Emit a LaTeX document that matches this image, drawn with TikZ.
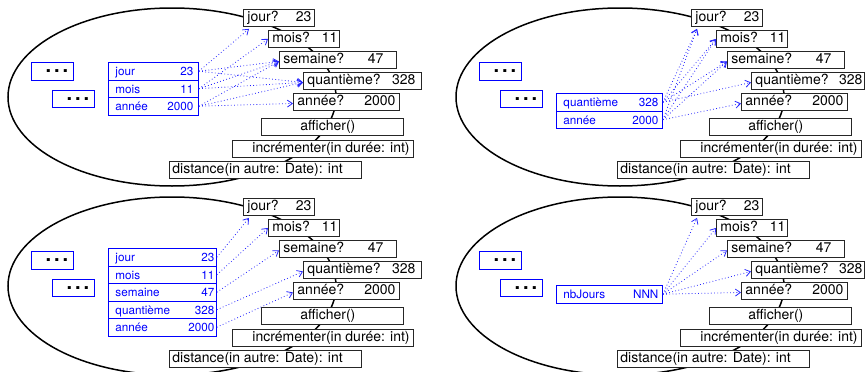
\documentclass[tikz,border=0pt]{standalone}
\usepackage{fontspec}
\setmainfont{TeX Gyre Heros}
\usetikzlibrary{arrows.meta}
\definecolor{fieldblue}{RGB}{0,0,255}
\newcommand\blackfont{\fontsize{14}{16}\selectfont}
\newcommand\bluefont{\fontsize{11.7}{13}\selectfont}
\newcommand\dotrow{\hspace*{9pt}{\fontsize{20}{22}\selectfont\bfseries .\kern3pt.\kern3pt.}}
\tikzset{
  oval/.style={draw=black, line width=1.5pt},
  method/.style={draw=black!85, line width=0.9pt, fill=white, anchor=north west,
    inner sep=0pt, minimum height=17pt, text height=11pt, text depth=3pt, font=\blackfont},
  dotbox/.style={draw=fieldblue, line width=0.9pt, fill=white, anchor=north west,
    inner sep=0pt, minimum width=42pt, minimum height=17.5pt},
  field/.style={draw=fieldblue, line width=0.9pt, anchor=north west, inner sep=0pt,
    minimum height=17.5pt, text height=11pt, text depth=1.5pt, font=\bluefont, text=fieldblue},
  link/.style={draw=fieldblue!85, line width=0.8pt, dash pattern=on 0.8pt off 2.4pt,
    -{Straight Barb[length=5pt,width=7pt,line width=0.8pt]}},
}
% a method box: name, left, top, width, contents
\newcommand\methodbox[5]{\node[method, minimum width=#4pt] (#1) at (#2,#3) {\makebox[#4pt][l]{#5}};}
% an attribute row: name, left, top, width, contents
\newcommand\fieldrow[5]{\node[field, minimum width=#4pt] (#1) at (#2,#3) {\makebox[#4pt][l]{#5}};}
% the object: outline, hidden parts and the public interface
% #1 prefix, #2 width of the quantieme box, #3 space after 328
\newcommand\drawpanel[3]{%
  \draw[oval] (172,97) ellipse [x radius=164pt, y radius=89pt];
  \node[dotbox] (#1-d1) at (31,62) {\dotrow};
  \node[dotbox] (#1-d2) at (52,89.5) {\dotrow};
  \methodbox{#1-jour}{243}{9}{71}{\hspace{4pt}jour?\hfill 23\hspace{3pt}}
  \methodbox{#1-mois}{268}{30}{71}{\hspace{4pt}mois?\hfill 11\hspace{2pt}}
  \methodbox{#1-sem}{279}{51}{117}{\hspace{4pt}semaine?\hfill 47\hspace{13pt}}
  \methodbox{#1-quant}{303}{72}{#2}{\hspace{4pt}quantième?\hfill 328\hspace{#3pt}}
  \methodbox{#1-an}{293}{93}{106}{\hspace{4pt}année?\hfill 2000\hspace{4pt}}
  \methodbox{#1-aff}{261}{118}{142}{\hspace{39pt}afficher()}
  \methodbox{#1-incr}{232}{139.5}{181}{\hspace{20pt}incrémenter(in durée: int)}
  \methodbox{#1-dist}{169}{161}{192}{\hspace{3pt}distance(in autre: Date): int}
}
\begin{document}
\begin{tikzpicture}[x=1pt, y=-1pt]
\useasboundingbox (0,0) rectangle (868,372);

% jour, mois, annee stored
\begin{scope}
  \drawpanel{tl}{118}{6}
  \fieldrow{tl-fjour}{108}{62}{90}{\hspace{7pt}jour\hfill 23\hspace{5pt}}
  \fieldrow{tl-fmois}{108}{79.5}{90}{\hspace{7pt}mois\hfill 11\hspace{5pt}}
  \fieldrow{tl-fan}{108}{97}{90}{\hspace{7pt}année\hfill 2000\hspace{5pt}}
  \draw[link] (tl-fjour.east) -- ([shift={(6pt,-2pt)}]tl-jour.south west);
  \draw[link] (tl-fjour.east) -- ([yshift=-1.5pt]tl-sem.west);
  \draw[link] (tl-fjour.east) -- ([yshift=-1.5pt]tl-quant.west);
  \draw[link] (tl-fmois.east) -- (tl-mois.west);
  \draw[link] (tl-fmois.east) -- ([yshift=-1.5pt]tl-sem.west);
  \draw[link] (tl-fmois.east) -- ([yshift=-1.5pt]tl-quant.west);
  \draw[link] (tl-fan.east) -- ([yshift=-1.5pt]tl-sem.west);
  \draw[link] (tl-fan.east) -- ([yshift=-1.5pt]tl-quant.west);
  \draw[link] (tl-fan.east) -- ([yshift=-1.5pt]tl-an.west);
\end{scope}

% quantieme, annee stored
\begin{scope}[shift={(448,0)}]
  \drawpanel{tr}{113}{2}
  \fieldrow{tr-fquant}{108}{93}{106}{\hspace{7pt}quantième\hfill 328\hspace{4pt}}
  \fieldrow{tr-fan}{108}{110.5}{106}{\hspace{7pt}année\hfill 2000\hspace{4pt}}
  \draw[link] (tr-fquant.east) -- ([shift={(6pt,-2pt)}]tr-jour.south west);
  \draw[link] (tr-fquant.east) -- (tr-mois.west);
  \draw[link] (tr-fquant.east) -- ([yshift=-1.5pt]tr-sem.west);
  \draw[link] (tr-fquant.east) -- ([yshift=-1.5pt]tr-quant.west);
  \draw[link] (tr-fan.east) -- ([shift={(6pt,-2pt)}]tr-jour.south west);
  \draw[link] (tr-fan.east) -- (tr-mois.west);
  \draw[link] (tr-fan.east) -- ([yshift=-1.5pt]tr-sem.west);
  \draw[link] (tr-fan.east) -- ([yshift=-1.5pt]tr-an.west);
\end{scope}

% every value stored
\begin{scope}[shift={(0,189)}]
  \drawpanel{bl}{118}{6}
  \fieldrow{bl-fjour}{108}{59}{108}{\hspace{7pt}jour\hfill 23\hspace{2pt}}
  \fieldrow{bl-fmois}{108}{76.5}{108}{\hspace{7pt}mois\hfill 11\hspace{2pt}}
  \fieldrow{bl-fsem}{108}{94}{108}{\hspace{7pt}semaine\hfill 47\hspace{2pt}}
  \fieldrow{bl-fquant}{108}{111.5}{108}{\hspace{7pt}quantième\hfill 328\hspace{2pt}}
  \fieldrow{bl-fan}{108}{129}{108}{\hspace{7pt}année\hfill 2000\hspace{2pt}}
  \draw[link] (bl-fjour.east) -- ([shift={(6pt,-2pt)}]bl-jour.south west);
  \draw[link] (bl-fmois.east) -- (bl-mois.west);
  \draw[link] (bl-fsem.east) -- ([yshift=-1.5pt]bl-sem.west);
  \draw[link] (bl-fquant.east) -- ([yshift=-1.5pt]bl-quant.west);
  \draw[link] (bl-fan.east) -- ([yshift=-1.5pt]bl-an.west);
\end{scope}

% a single day count stored
\begin{scope}[shift={(448,189)}]
  \drawpanel{br}{113}{2}
  \fieldrow{br-fnb}{108}{96}{106}{\hspace{7pt}nbJours\hfill NNN\hspace{4pt}}
  \draw[link] (br-fnb.east) -- ([shift={(6pt,-2pt)}]br-jour.south west);
  \draw[link] (br-fnb.east) -- (br-mois.west);
  \draw[link] (br-fnb.east) -- ([yshift=-1.5pt]br-sem.west);
  \draw[link] (br-fnb.east) -- ([yshift=-1.5pt]br-quant.west);
  \draw[link] (br-fnb.east) -- ([yshift=-1.5pt]br-an.west);
\end{scope}
\end{tikzpicture}
\end{document}
